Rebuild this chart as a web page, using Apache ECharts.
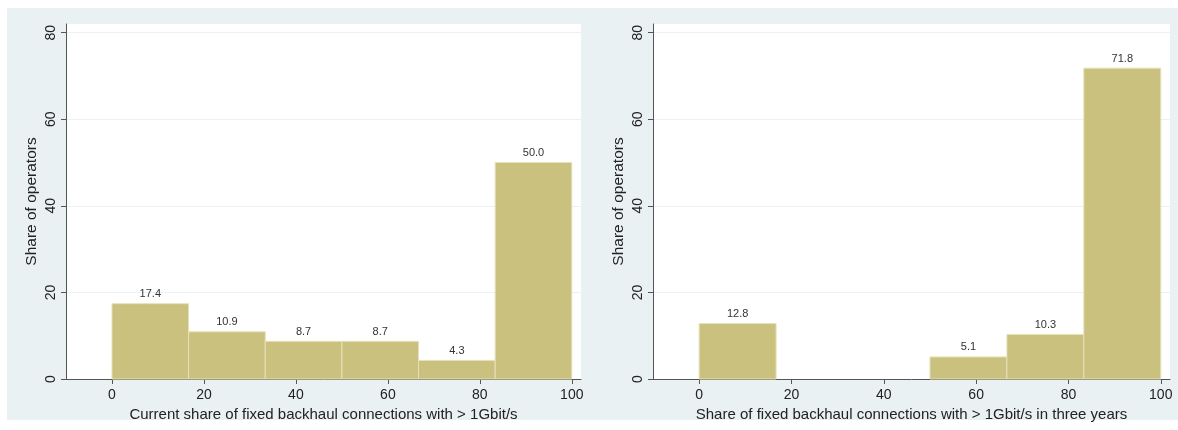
<!DOCTYPE html>
<html>
<head>
<meta charset="utf-8">
<script src="https://cdn.jsdelivr.net/npm/echarts@6/dist/echarts.min.js"></script>
<style>
html,body{margin:0;padding:0;background:#ffffff;}
#bg{position:absolute;left:7px;top:8px;width:1171px;height:412px;background:#e9f1f3;}
#chart{position:absolute;left:0;top:0;width:1178px;height:430px;}
</style>
</head>
<body>
<div id="bg"></div>
<div id="chart"></div>
<script>
// Histogram bins (percent of fixed backhaul connections)
const binStart = [0, 16.667, 33.333, 50, 66.667, 83.333];
const binEnd   = [16.667, 33.333, 50, 66.667, 83.333, 100];
// Share of operators per bin
const currentShare = [17.4, 10.9, 8.7, 8.7, 4.3, 50.0];
const futureShare  = [12.8, 0, 0, 5.1, 10.3, 71.8];
// Tick labels
const xTicks = [0, 20, 40, 60, 80, 100];
const yTicks = [0, 20, 40, 60, 80];
const xTitles = ['Current share of fixed backhaul connections with > 1Gbit/s',
                 'Share of fixed backhaul connections with > 1Gbit/s in three years'];
const yTitle = 'Share of operators';

const FONT = 'Liberation Sans, Arial, sans-serif';
const BAR = '#c9c17d';

function buildData(vals) {
  const out = [];
  for (let i = 0; i < vals.length; i++) {
    if (vals[i] > 0) out.push([binStart[i], binEnd[i], vals[i]]);
  }
  return out;
}

function renderItem(params, api) {
  const x0 = api.value(0), x1 = api.value(1), v = api.value(2);
  const pTop = api.coord([x0, v]);
  const pBot = api.coord([x1, 0]);
  return {
    type: 'group',
    children: [
      { type: 'rect',
        shape: { x: pTop[0], y: pTop[1], width: pBot[0] - pTop[0], height: pBot[1] - pTop[1] },
        style: { fill: BAR, stroke: '#e6e1bb', lineWidth: 1 } },
      { type: 'text', x: (pTop[0] + pBot[0]) / 2, y: pTop[1] - 4,
        style: { text: v.toFixed(1), align: 'center', verticalAlign: 'bottom',
                 fill: '#333', font: '11px ' + FONT } }
    ]
  };
}

function xAxis(i) {
  return {
    type: 'value', gridIndex: i, min: -10, max: 102,
    name: xTitles[i], nameLocation: 'middle', nameGap: 25,
    nameTextStyle: { fontFamily: FONT, fontSize: 15, color: '#222' },
    axisLine: { show: true, onZero: false, lineStyle: { color: '#555', width: 1 } },
    axisTick: { show: true, length: 5, customValues: xTicks, lineStyle: { color: '#555' } },
    axisLabel: { customValues: xTicks, margin: 9, fontFamily: FONT, fontSize: 14, color: '#222' },
    splitLine: { show: false }
  };
}
function yAxis(i) {
  return {
    type: 'value', gridIndex: i, min: 0, max: 82,
    name: yTitle, nameLocation: 'middle', nameGap: 26,
    nameTextStyle: { fontFamily: FONT, fontSize: 15.5, color: '#222' },
    axisLine: { show: true, onZero: false, lineStyle: { color: '#555', width: 1 } },
    axisTick: { show: true, length: 5, customValues: yTicks, lineStyle: { color: '#555' } },
    axisLabel: { customValues: yTicks, rotate: 90, margin: 8, fontFamily: FONT, fontSize: 14, color: '#222' },
    splitLine: { show: true, lineStyle: { color: '#eaf2f3', width: 1 } }
  };
}

const chart = echarts.init(document.getElementById('chart'), null, { renderer: 'canvas' });
chart.setOption({
  backgroundColor: 'transparent',
  animation: false,
  grid: [
    { left: 66, top: 24, width: 515, height: 355, show: true, backgroundColor: '#ffffff', borderWidth: 0 },
    { left: 653, top: 24, width: 517, height: 355, show: true, backgroundColor: '#ffffff', borderWidth: 0 }
  ],
  xAxis: [xAxis(0), xAxis(1)],
  yAxis: [yAxis(0), yAxis(1)],
  series: [
    { type: 'custom', xAxisIndex: 0, yAxisIndex: 0, renderItem: renderItem,
      encode: { x: [0, 1], y: 2 }, data: buildData(currentShare) },
    { type: 'custom', xAxisIndex: 1, yAxisIndex: 1, renderItem: renderItem,
      encode: { x: [0, 1], y: 2 }, data: buildData(futureShare) }
  ]
});
</script>
</body>
</html>
